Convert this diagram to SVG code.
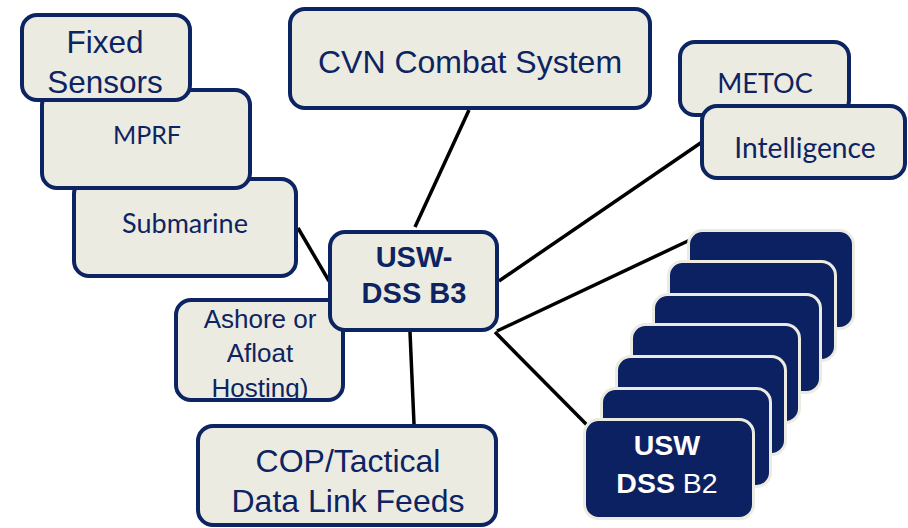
<svg xmlns="http://www.w3.org/2000/svg" width="908" height="528" viewBox="0 0 908 528">
<style>
.box{fill:#ecebe1;stroke:#0c2461;stroke-width:4}
.dark{fill:#0c2161;stroke:#ecebe1;stroke-width:3}
.conn{stroke:#000;stroke-width:3.5;fill:none}
.ar{font-family:"Liberation Sans",Arial,sans-serif;fill:#0c2461;text-anchor:middle}
.ca{font-family:Lato,"Open Sans",sans-serif;fill:#0c2461;text-anchor:middle}
.wt{font-family:"Liberation Sans",Arial,sans-serif;fill:#ffffff;text-anchor:middle;font-size:28.5px}
</style>
<rect width="908" height="528" fill="#ffffff"/>
<g id="connectors">
<line class="conn" x1="469" y1="110" x2="415" y2="227"/>
<line class="conn" x1="298" y1="228" x2="329" y2="281"/>
<line class="conn" x1="499" y1="281" x2="702" y2="142"/>
<line class="conn" x1="497" y1="331" x2="690" y2="240"/>
<line class="conn" x1="495" y1="332" x2="587" y2="425"/>
<line class="conn" x1="410" y1="332" x2="414" y2="424"/>
</g>
<g id="submarine"><rect class="box" x="74" y="179" width="222" height="97" rx="15"/><text class="ca" x="185" y="233" font-size="27">Submarine</text></g>
<g id="mprf"><rect class="box" x="42" y="90" width="208" height="98" rx="15"/><text class="ca" x="147" y="144" font-size="25">MPRF</text></g>
<g id="fixed-sensors"><rect class="box" x="22" y="15" width="168" height="85" rx="15"/><text class="ar" x="105" y="53" font-size="31.5">Fixed</text><text class="ar" x="105" y="93" font-size="31.5">Sensors</text></g>
<g id="cvn"><rect class="box" x="290" y="9" width="360" height="99" rx="15"/><text class="ar" x="470" y="73" font-size="32">CVN Combat System</text></g>
<g id="metoc"><rect class="box" x="680" y="42" width="169" height="73" rx="15"/><text class="ca" x="765" y="93" font-size="27">METOC</text></g>
<g id="intelligence"><rect class="box" x="702" y="106" width="203" height="72" rx="15"/><text class="ca" x="805" y="158" font-size="28.2">Intelligence</text></g>
<g id="ashore"><rect class="box" x="176" y="300" width="167" height="100" rx="15"/><text class="ar" x="260" y="328" font-size="26">Ashore or</text><text class="ar" x="260" y="362" font-size="26">Afloat</text><text class="ar" x="260" y="397" font-size="26">Hosting)</text></g>
<g id="b3"><rect class="box" x="330" y="232" width="167" height="98" rx="15"/><text class="ar" x="414" y="267" font-size="29" font-weight="bold">USW-</text><text class="ar" x="414" y="303" font-size="29" font-weight="bold">DSS B3</text></g>
<g id="cop"><rect class="box" x="198" y="426" width="298" height="99" rx="15"/><text class="ar" x="348" y="472" font-size="32">COP/Tactical</text><text class="ar" x="348" y="512" font-size="32">Data Link Feeds</text></g>
<g id="b2-stack">
<rect class="dark" x="688.5" y="230.5" width="165" height="98" rx="14"/>
<rect class="dark" x="668.5" y="261.5" width="167" height="99" rx="14"/>
<rect class="dark" x="653.5" y="294.5" width="167" height="98" rx="14"/>
<rect class="dark" x="631.5" y="324.5" width="168" height="98" rx="14"/>
<rect class="dark" x="616.5" y="356.5" width="169" height="98" rx="14"/>
<rect class="dark" x="601.5" y="388.5" width="169" height="98" rx="14"/>
</g>
<g id="b2"><rect class="dark" x="584.5" y="419.5" width="169" height="99" rx="14"/><text class="wt" x="667" y="455" font-weight="bold">USW</text><text class="wt" x="667" y="493"><tspan font-weight="bold">DSS</tspan> B2</text></g>
</svg>
